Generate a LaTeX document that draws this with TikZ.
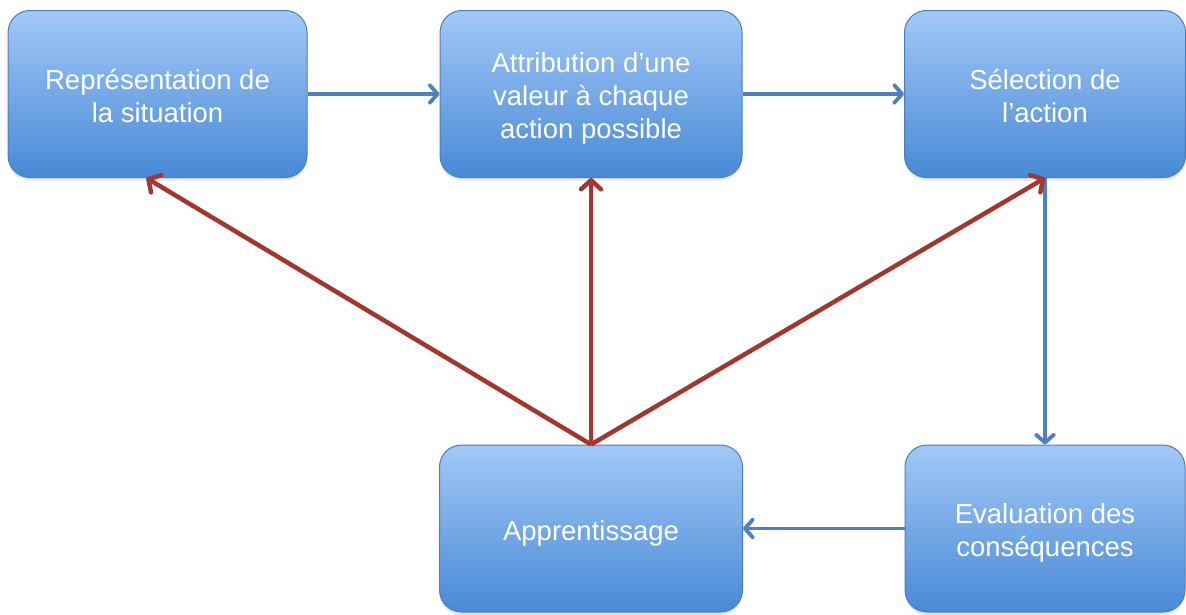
\documentclass[tikz,border=0pt]{standalone}
\usepackage{fontspec}
\setmainfont{Liberation Sans}
\usetikzlibrary{arrows.meta,shadows}
\definecolor{boxtop}{RGB}{162,200,247}
\definecolor{boxbot}{RGB}{72,138,214}
\definecolor{boxline}{RGB}{74,126,187}
\definecolor{bluearrow}{RGB}{79,129,189}
\definecolor{redarrow}{RGB}{163,55,47}
\newcommand\firstline{\strut\rule{0pt}{33pt}}
\begin{document}
\begin{tikzpicture}[x=1pt,y=-1pt,
  box/.style={draw=boxline, line width=1pt, rounded corners=22pt,
    top color=boxtop, bottom color=boxbot, minimum height=167pt,
    text=white, align=center, inner sep=0pt,
    font=\fontsize{27.5}{33}\selectfont,
    drop shadow={opacity=0.2, shadow xshift=0pt, shadow yshift=-3pt}},
  bluearr/.style={draw=bluearrow, line width=3.8pt,
    -{Straight Barb[length=8pt,width=18pt,round]}},
  redarr/.style={draw=redarrow, line width=4.5pt,
    -{Straight Barb[length=9pt,width=20pt,round]}}
]
\useasboundingbox (0,0) rectangle (1186,614);
\node[box, minimum width=299pt] (rep) at (157.5,94) {\firstline Représentation de\\\strut la situation};
\node[box, minimum width=302pt] (att) at (591,94) {\firstline Attribution d’une\\\strut valeur à chaque\\\strut action possible};
\node[box, minimum width=281pt] (sel) at (1045,94) {\firstline Sélection de\\\strut l’action};
\node[box, minimum width=303pt] (app) at (591,528.5) {\firstline Apprentissage};
\node[box, minimum width=280pt] (eva) at (1045,528.5) {\firstline Evaluation des\\\strut conséquences};

\draw[bluearr] (rep.east) -- (att.west);
\draw[bluearr] (att.east) -- (sel.west);
\draw[bluearr] (sel.south) -- (eva.north);
\draw[bluearr] (eva.west) -- (app.east);

\draw[redarr] (app.north) -- ([xshift=-11pt]rep.south);
\draw[redarr] (app.north) -- (att.south);
\draw[redarr] (app.north) -- (sel.south);
\end{tikzpicture}
\end{document}
